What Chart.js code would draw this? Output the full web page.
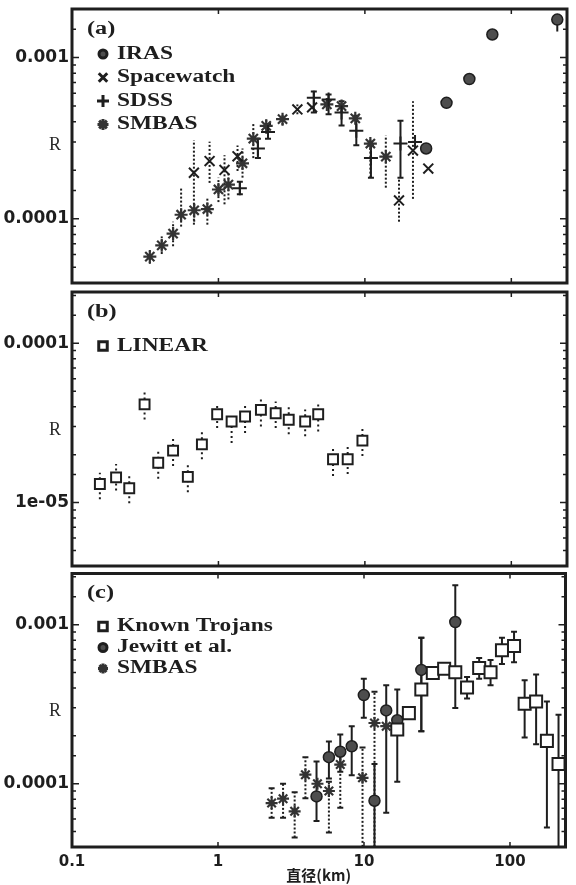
<!DOCTYPE html>
<html>
<head>
<meta charset="utf-8">
<script src="https://cdn.jsdelivr.net/npm/chart.js@4.4.1/dist/chart.umd.min.js"></script>
<style>
  html, body { margin: 0; padding: 0; background: #fff; }
  #wrap { position: relative; width: 576px; height: 885px; }
  .panel { position: absolute; left: 0; width: 576px; }
</style>
</head>
<body>
<div id="wrap">
  <div class="panel" style="top:0;height:292px"><canvas id="panelA"></canvas></div>
  <div class="panel" style="top:283px;height:292px"><canvas id="panelB"></canvas></div>
  <div class="panel" style="top:563px;height:322px"><canvas id="panelC"></canvas></div>
</div>
<script>
// shared x axis (diameter, km)
const xRange = [0.1, 240];
const xDecades = [0.1, 1, 10, 100];
const xDecadeText = ['0.1', '1', '10', '100'];
const xTitle = '直径(km)';

// panel (a)
const yRangeA = [4e-5, 2e-3];
const yTicksA = [0.001, 0.0001];
const yTextA = ['0.001', '0.0001'];

const irasX = [26.2, 36.1, 51.7, 74.2, 206];
const irasY = [2.73e-4, 5.24e-4, 7.36e-4, 1.39e-3, 1.72e-3];
const irasLo = [null, null, null, null, 1.45e-3];
const irasHi = [null, null, null, null, 1.85e-3];

const spacewatchX = [0.68, 0.87, 1.10, 1.35, 3.46, 4.36, 17.1, 21.3, 27.1];
const spacewatchY = [1.93e-4, 2.28e-4, 2.01e-4, 2.44e-4, 4.77e-4, 4.91e-4, 1.30e-4, 2.65e-4, 2.05e-4];
const spacewatchLo = [9.2e-5, 1.67e-4, 1.23e-4, 1.98e-4, 4.45e-4, null, 9.6e-5, 1.33e-4, null];
const spacewatchHi = [3.07e-4, 3.01e-4, 2.48e-4, 2.85e-4, 5.12e-4, null, 1.8e-4, 5.36e-4, null];

const sdssX = [1.40, 1.86, 2.18, 4.48, 5.65, 6.93, 8.74, 11.0, 17.5, 22.0];
const sdssY = [1.55e-4, 2.73e-4, 3.46e-4, 5.64e-4, 5.49e-4, 4.57e-4, 3.52e-4, 2.38e-4, 2.93e-4, 3.0e-4];
const sdssLo = [1.42e-4, 2.38e-4, 3.14e-4, 4.56e-4, 4.45e-4, 3.79e-4, 2.86e-4, 1.8e-4, 1.8e-4, null];
const sdssHi = [1.70e-4, 3.14e-4, 3.87e-4, 6.16e-4, 5.89e-4, 5.36e-4, 4.35e-4, 2.86e-4, 4.06e-4, null];

const smbasAX = [0.34, 0.41, 0.49, 0.556, 0.683, 0.84, 1.0, 1.17, 1.46, 1.73, 2.12, 2.74, 5.5, 6.93, 8.6, 10.9, 13.9];
const smbasAY = [5.83e-5, 6.85e-5, 8.1e-5, 1.06e-4, 1.13e-4, 1.15e-4, 1.52e-4, 1.63e-4, 2.21e-4, 3.14e-4, 3.77e-4, 4.15e-4, 5.12e-4, 5.0e-4, 4.2e-4, 2.93e-4, 2.43e-4];
const smbasALo = [5.26e-5, 6.05e-5, 6.76e-5, 8.95e-5, 9.6e-5, 9.2e-5, 1.27e-4, 1.32e-4, 1.8e-4, 2.38e-4, 3.37e-4, 3.82e-4, null, null, null, 1.8e-4, 1.56e-4];
const smbasAHi = [6.31e-5, 7.78e-5, 9.6e-5, 1.56e-4, 1.27e-4, 1.36e-4, 1.8e-4, 1.93e-4, 2.73e-4, 3.87e-4, 4.15e-4, 4.52e-4, null, null, null, 3.14e-4, 3.29e-4];

// panel (b)
const yRangeB = [4e-6, 2.1e-4];
const yTicksB = [0.0001, 0.00001];
const yTextB = ['0.0001', '1e-05'];

const linearX = [0.155, 0.20, 0.246, 0.313, 0.388, 0.49, 0.618, 0.771, 0.98, 1.23, 1.52, 1.95, 2.46, 3.02, 3.91, 4.8, 6.06, 7.63, 9.62];
const linearY = [1.31e-5, 1.44e-5, 1.23e-5, 4.14e-5, 1.78e-5, 2.12e-5, 1.45e-5, 2.32e-5, 3.59e-5, 3.23e-5, 3.47e-5, 3.82e-5, 3.64e-5, 3.31e-5, 3.23e-5, 3.59e-5, 1.87e-5, 1.87e-5, 2.45e-5];
const linearLo = [1.05e-5, 1.19e-5, 9.9e-6, 3.33e-5, 1.41e-5, 1.70e-5, 1.16e-5, 1.87e-5, 2.94e-5, 2.37e-5, 2.74e-5, 3.01e-5, 2.94e-5, 2.69e-5, 2.61e-5, 2.80e-5, 1.47e-5, 1.51e-5, 1.96e-5];
const linearHi = [1.54e-5, 1.75e-5, 1.51e-5, 4.97e-5, 2.16e-5, 2.61e-5, 1.75e-5, 2.80e-5, 4.20e-5, 3.64e-5, 4.12e-5, 4.51e-5, 4.31e-5, 4.12e-5, 3.84e-5, 4.20e-5, 2.26e-5, 2.26e-5, 2.94e-5];

// panel (c)
const yRangeC = [4e-5, 2.1e-3];
const yTicksC = [0.001, 0.0001];
const yTextC = ['0.001', '0.0001'];

const trojansX = [16.9, 20.3, 24.7, 29.6, 35.4, 42.2, 50.8, 61.5, 73.6, 88.1, 106.6, 126, 151, 179, 215];
const trojansY = [2.19e-4, 2.78e-4, 3.92e-4, 4.97e-4, 5.28e-4, 5.03e-4, 4.03e-4, 5.35e-4, 5.03e-4, 6.91e-4, 7.34e-4, 3.18e-4, 3.29e-4, 1.86e-4, 1.33e-4];
const trojansLo = [null, null, 2.14e-4, null, null, null, 3.44e-4, 4.57e-4, 4.16e-4, 5.66e-4, 5.81e-4, 1.95e-4, 1.77e-4, 5.3e-5, 3e-5];
const trojansHi = [null, null, 8.28e-4, null, null, null, 4.69e-4, 6.17e-4, 6.0e-4, 8.28e-4, 9.02e-4, 4.47e-4, 4.87e-4, 3.29e-4, 2.72e-4];

const jewittX = [4.73, 5.75, 6.88, 8.24, 9.97, 11.8, 14.2, 16.9, 24.7, 42.2];
const jewittY = [8.32e-5, 1.47e-4, 1.59e-4, 1.72e-4, 3.61e-4, 7.82e-5, 2.89e-4, 2.51e-4, 5.2e-4, 1.04e-3];
const jewittLo = [5.82e-5, 1.08e-4, 1.19e-4, 1.13e-4, 2.6e-4, 3e-5, 6.56e-5, 1.03e-4, 2.14e-4, 2.99e-4];
const jewittHi = [1.38e-4, 1.84e-4, 2.04e-4, 2.3e-4, 4.57e-4, 1.33e-4, 4.16e-4, 3.92e-4, 8.28e-4, 1.77e-3];

const smbasCX = [2.33, 2.79, 3.35, 3.97, 4.8, 5.75, 6.88, 9.77, 11.8, 14.2];
const smbasCY = [7.56e-5, 8.05e-5, 6.71e-5, 1.14e-4, 1.0e-4, 9.0e-5, 1.32e-4, 1.09e-4, 2.41e-4, 2.3e-4];
const smbasCLo = [6.1e-5, 6.1e-5, 4.59e-5, 8.1e-5, null, 4.93e-5, 7.05e-5, 3e-5, 3e-5, null];
const smbasCHi = [9.35e-5, 1.0e-4, 8.83e-5, 1.47e-4, null, 1.03e-4, 1.58e-4, 1.69e-4, 3.79e-4, null];

const ink = '#1e1e1e';
const grey = '#4d4d4d';

function pts(xs, ys) {
  return xs.map((v, i) => ({ x: v, y: ys[i] }));
}

function labeler(values, texts) {
  return v => {
    const k = values.findIndex(t => Math.abs(t - v) / t < 1e-6);
    return k >= 0 ? texts[k] : '';
  };
}

function isDecade(v) {
  const l = Math.log10(v);
  return Math.abs(l - Math.round(l)) < 1e-6;
}

function wideText(ctx, text, x, y, sx) {
  ctx.save();
  ctx.translate(x, y);
  ctx.scale(sx, 1);
  ctx.fillText(text, 0, 0);
  ctx.restore();
}

// vertical error bars, drawn under the markers
const errorBars = {
  id: 'errorBars',
  beforeDatasetsDraw(chart) {
    const { ctx, chartArea: a, scales: { x, y } } = chart;
    ctx.save();
    ctx.beginPath();
    ctx.rect(a.left, a.top, a.width, a.height);
    ctx.clip();
    chart.data.datasets.forEach(ds => {
      if (!ds.errLow) return;
      ctx.strokeStyle = ink;
      ctx.lineWidth = 2;
      ds.data.forEach((p, i) => {
        const lo = ds.errLow[i], hi = ds.errHigh[i];
        if (lo == null || hi == null) return;
        const px = x.getPixelForValue(p.x);
        const y1 = y.getPixelForValue(lo), y2 = y.getPixelForValue(hi);
        ctx.setLineDash(ds.errDash || []);
        ctx.beginPath();
        ctx.moveTo(px, y1);
        ctx.lineTo(px, y2);
        ctx.stroke();
        if (ds.errCap) {
          ctx.setLineDash([]);
          ctx.beginPath();
          ctx.moveTo(px - ds.errCap, y1); ctx.lineTo(px + ds.errCap, y1);
          ctx.moveTo(px - ds.errCap, y2); ctx.lineTo(px + ds.errCap, y2);
          ctx.stroke();
        }
      });
    });
    ctx.restore();
  }
};

// frame, inward ticks, R label, panel tag and legend
const deco = {
  id: 'deco',
  afterDraw(chart, args, o) {
    const { ctx, chartArea: a, scales: { x, y } } = chart;
    ctx.save();
    ctx.strokeStyle = ink;
    ctx.lineWidth = 1.5;
    y.ticks.forEach(t => {
      const py = y.getPixelForValue(t.value);
      if (py < a.top + 2 || py > a.bottom - 2) return;
      const len = isDecade(t.value) ? 7 : 4;
      ctx.beginPath();
      ctx.moveTo(a.left, py); ctx.lineTo(a.left + len, py);
      ctx.moveTo(a.right, py); ctx.lineTo(a.right - len, py);
      ctx.stroke();
    });
    xDecades.forEach(v => {
      const px = x.getPixelForValue(v);
      if (px <= a.left + 2) return;
      ctx.beginPath();
      ctx.moveTo(px, a.top); ctx.lineTo(px, a.top + 5);
      ctx.moveTo(px, a.bottom); ctx.lineTo(px, a.bottom - 5);
      ctx.stroke();
    });
    ctx.lineWidth = 3;
    ctx.strokeRect(a.left, a.top, a.width, a.height);

    ctx.fillStyle = '#2a2a2a';
    ctx.textAlign = 'center';
    ctx.textBaseline = 'middle';
    ctx.font = '18px "Liberation Serif"';
    const mid = (y.getPixelForValue(o.rBetween[0]) + y.getPixelForValue(o.rBetween[1])) / 2;
    ctx.fillText('R', 55, mid + 7);

    ctx.textAlign = 'left';
    ctx.fillStyle = ink;
    ctx.font = 'bold 18px "Liberation Serif"';
    wideText(ctx, o.tag, a.left + 15, a.top + 20, 1.35);
    chart.data.datasets.forEach((ds, i) => {
      const ly = a.top + o.legendTop + i * o.legendGap;
      ctx.fillStyle = ds.backgroundColor;
      ctx.strokeStyle = ds.borderColor;
      ctx.setLineDash([]);
      Chart.helpers.drawPoint(ctx, {
        pointStyle: ds.pointStyle, radius: ds.legendRadius, borderWidth: 1.8, rotation: 0
      }, a.left + 31, ly);
      ctx.fillStyle = ink;
      wideText(ctx, ds.label, a.left + 45, ly, 1.3);
    });
    ctx.restore();
  }
};

function makePanel(canvasId, p) {
  const xScale = {
    type: 'logarithmic', min: xRange[0], max: xRange[1],
    display: p.showX,
    grid: { display: false, drawTicks: false }, border: { display: false },
    ticks: {
      autoSkip: false, maxRotation: 0, padding: 6, color: ink,
      font: { family: 'DejaVu Sans', weight: 'bold', size: 15 },
      callback: labeler(xDecades, xDecadeText)
    },
    title: {
      display: p.showX, text: xTitle, color: ink,
      font: { family: 'Noto Sans CJK SC', weight: 'bold', size: 15 },
      padding: { top: 0, bottom: 1 }
    }
  };
  if (p.showX) {
    xScale.afterFit = s => { s.height = 38; s.paddingLeft = 0; s.paddingRight = 0; };
  }
  return new Chart(document.getElementById(canvasId), {
    type: 'scatter',
    data: { datasets: p.datasets },
    options: {
      animation: false,
      responsive: true,
      maintainAspectRatio: false,
      layout: { padding: p.padding },
      plugins: { legend: { display: false }, tooltip: { enabled: false }, deco: p.deco },
      scales: {
        x: xScale,
        y: {
          type: 'logarithmic', min: p.yRange[0], max: p.yRange[1],
          afterFit: s => { s.width = 72; s.paddingTop = 0; s.paddingBottom = 0; },
          grid: { display: false, drawTicks: false }, border: { display: false },
          ticks: {
            autoSkip: false, padding: 3, color: ink,
            font: { family: 'DejaVu Sans', weight: 'bold', size: 17 },
            callback: labeler(p.yTicks, p.yText)
          }
        }
      }
    },
    plugins: [errorBars, deco]
  });
}

makePanel('panelA', {
  padding: { top: 8, right: 3, bottom: 5, left: 0 },
  showX: false,
  yRange: yRangeA, yTicks: yTicksA, yText: yTextA,
  deco: { tag: '(a)', rBetween: yTicksA, legendTop: 45, legendGap: 23.5 },
  datasets: [
    { label: 'IRAS', data: pts(irasX, irasY), errLow: irasLo, errHigh: irasHi, errCap: 0,
      pointStyle: 'circle', radius: 5.5, borderWidth: 1.5, borderColor: ink, backgroundColor: grey, legendRadius: 4 },
    { label: 'Spacewatch', data: pts(spacewatchX, spacewatchY), errLow: spacewatchLo, errHigh: spacewatchHi, errDash: [2, 2],
      pointStyle: 'crossRot', radius: 7, borderWidth: 2, borderColor: ink, backgroundColor: ink, legendRadius: 6 },
    { label: 'SDSS', data: pts(sdssX, sdssY), errLow: sdssLo, errHigh: sdssHi, errCap: 3,
      pointStyle: 'cross', radius: 7, borderWidth: 2, borderColor: ink, backgroundColor: ink, legendRadius: 6 },
    { label: 'SMBAS', data: pts(smbasAX, smbasAY), errLow: smbasALo, errHigh: smbasAHi, errDash: [2, 2],
      pointStyle: 'star', radius: 6.5, borderWidth: 2.2, borderColor: '#333', backgroundColor: '#333', legendRadius: 5.5 }
  ]
});

makePanel('panelB', {
  padding: { top: 5, right: 3, bottom: 8, left: 0 },
  showX: false,
  yRange: yRangeB, yTicks: yTicksB, yText: yTextB,
  deco: { tag: '(b)', rBetween: yTicksB, legendTop: 54, legendGap: 0 },
  datasets: [
    { label: 'LINEAR', data: pts(linearX, linearY), errLow: linearLo, errHigh: linearHi, errDash: [2, 3],
      pointStyle: 'rect', radius: 7, borderWidth: 2, borderColor: ink, backgroundColor: '#fff', legendRadius: 6 }
  ]
});

makePanel('panelC', {
  padding: { top: 5, right: 3, bottom: 0, left: 0 },
  showX: true,
  yRange: yRangeC, yTicks: yTicksC, yText: yTextC,
  deco: { tag: '(c)', rBetween: yTicksC, legendTop: 53, legendGap: 21 },
  datasets: [
    { label: 'Known Trojans', data: pts(trojansX, trojansY), errLow: trojansLo, errHigh: trojansHi, errCap: 3,
      pointStyle: 'rect', radius: 8.5, borderWidth: 2, borderColor: ink, backgroundColor: '#fff', legendRadius: 6 },
    { label: 'Jewitt et al.', data: pts(jewittX, jewittY), errLow: jewittLo, errHigh: jewittHi, errCap: 3,
      pointStyle: 'circle', radius: 5.5, borderWidth: 1.5, borderColor: ink, backgroundColor: grey, legendRadius: 4 },
    { label: 'SMBAS', data: pts(smbasCX, smbasCY), errLow: smbasCLo, errHigh: smbasCHi, errDash: [2, 2], errCap: 3,
      pointStyle: 'star', radius: 6, borderWidth: 2.2, borderColor: '#333', backgroundColor: '#333', legendRadius: 5 }
  ]
});
</script>
</body>
</html>
